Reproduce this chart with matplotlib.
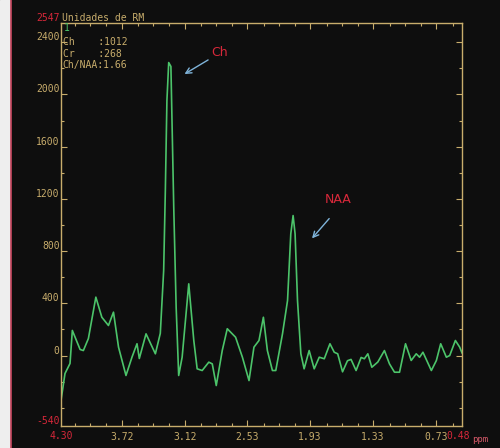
import numpy as np
import matplotlib.pyplot as plt
from matplotlib.patches import Rectangle
from matplotlib.lines import Line2D

# spectrum (ppm, signal in "Unidades de RM")
ppm = [4.300, 4.262, 4.214, 4.192, 4.118, 4.087, 4.039, 3.968, 3.911, 3.848,
       3.800, 3.752, 3.681, 3.624, 3.576, 3.554, 3.490, 3.401, 3.354, 3.322,
       3.306, 3.291, 3.274, 3.253, 3.226, 3.203, 3.179, 3.146, 3.083, 3.035,
       3.003, 2.955, 2.892, 2.859, 2.821, 2.764, 2.716, 2.637, 2.572, 2.509,
       2.462, 2.414, 2.372, 2.334, 2.286, 2.254, 2.190, 2.142, 2.111, 2.089,
       2.070, 2.047, 2.015, 1.984, 1.936, 1.888, 1.840, 1.792, 1.738, 1.697,
       1.664, 1.618, 1.571, 1.537, 1.489, 1.441, 1.410, 1.377, 1.339, 1.282,
       1.219, 1.171, 1.123, 1.075, 1.018, 0.964, 0.916, 0.884, 0.852, 0.772,
       0.724, 0.683, 0.629, 0.597, 0.543, 0.502, 0.480]
signal = [-345, -138, -61, 192, 46, 38, 130, 447, 293, 230,
          332, 64, -153, -13, 90, -23, 166, 13, 170, 651,
          1264, 1953, 2244, 2214, 1136, 370, -153, -13, 549, 115,
          -102, -115, -51, -64, -230, 38, 205, 140, -13, -192,
          64, 115, 293, 38, -115, -115, 166, 421, 932, 1072,
          932, 421, 13, -102, 38, -102, -13, -25, 90, 25,
          13, -125, -40, -30, -115, -15, -25, 13, -90, -50,
          38, -64, -128, -128, 90, -38, 13, -13, 25, -115,
          -38, 90, -13, 0, 115, 64, 20]

x_major = [3.72, 3.12, 2.53, 1.93, 1.33, 0.73]
x_labels = ['3.72', '3.12', '2.53', '1.93', '1.33', '0.73']
y_major = [0, 400, 800, 1200, 1600, 2000, 2400]
x_lim = (4.30, 0.48)
y_lim = (-540, 2547)

info_lines = ['Ch    :1012', 'Cr    :268', 'Ch/NAA:1.66']

TAN = '#c8ad6c'
RED = '#d8283a'
GREEN = '#4cc46a'
BLUE = '#7fb4da'
BG = '#0e0e0e'

fig = plt.figure(figsize=(5, 4.48), dpi=100)
fig.patch.set_facecolor(BG)
fig.patches.append(Rectangle((0, 0), 10 / 500, 1, transform=fig.transFigure,
                             color='#eeeeee', zorder=0))
fig.lines.append(Line2D([10.5 / 500, 10.5 / 500], [0, 1], transform=fig.transFigure,
                        color='#c04058', lw=1.2))

ax = fig.add_axes([61 / 500, 1 - 426 / 448, 401 / 500, 403 / 448])
ax.set_facecolor(BG)
ax.plot(ppm, signal, color=GREEN, lw=1.2)
ax.set_xlim(*x_lim)
ax.set_ylim(*y_lim)

for s in ax.spines.values():
    s.set_color(TAN)
    s.set_linewidth(1.0)

mono = 'DejaVu Sans Mono'
ax.set_xticks(x_major)
ax.set_xticklabels(x_labels)
x_minor = [3.72 - 0.15 * k for k in range(-3, 25) if k % 4 != 0]
ax.set_xticks([v for v in x_minor if x_lim[1] < v < x_lim[0]], minor=True)
ax.set_yticks(y_major)
ax.set_yticklabels([str(v) for v in y_major])
ax.set_yticks(np.arange(-400, 2547, 200), minor=True)
ax.tick_params(which='both', direction='in', top=True, right=True, color=TAN,
               labelcolor=TAN, labelsize=7, width=0.8)
ax.tick_params(which='major', length=4)
ax.tick_params(which='minor', length=2)
ax.tick_params(axis='x', pad=4)
ax.tick_params(axis='y', pad=1)
for lab in ax.get_xticklabels() + ax.get_yticklabels():
    lab.set_family(mono)
for lab in ax.get_yticklabels():
    lab.set_va('bottom')

# limit labels in red
ax.text(-0.003, y_lim[0], '-540', transform=ax.get_yaxis_transform(), ha='right',
        va='bottom', color=RED, fontsize=7, family=mono)
ax.text(-0.003, 1.0, '2547', transform=ax.transAxes, ha='right', va='bottom',
        color=RED, fontsize=7, family=mono)
ax.text(0.002, 1.0, 'Unidades de RM', transform=ax.transAxes, ha='left', va='bottom',
        color=TAN, fontsize=7, family=mono)
ax.text(x_lim[0], -0.012, '4.30', transform=ax.get_xaxis_transform(), ha='center',
        va='top', color=RED, fontsize=7, family=mono)
ax.text(0.515, -0.012, '0.48', transform=ax.get_xaxis_transform(), ha='center',
        va='top', color=RED, fontsize=7, family=mono)
ax.text(1.025, -0.022, 'ppm', transform=ax.transAxes, ha='left', va='top',
        color='#d85a6a', fontsize=6.5, family=mono)

# header block inside the frame
ax.text(0.006, 1.0, '1', transform=ax.transAxes, ha='left', va='top',
        color=GREEN, fontsize=7, family=mono)
for i, line in enumerate(info_lines):
    ax.text(0.004, 0.965 - i * 0.029, line, transform=ax.transAxes, ha='left',
            va='top', color=TAN, fontsize=7, family=mono)

# peak labels
ax.annotate('', xy=(3.146, 2145), xytext=(2.876, 2275),
            arrowprops=dict(arrowstyle='->', color=BLUE, lw=1.0))
ax.text(2.79, 2323, 'Ch', color=RED, fontsize=9, ha='center', va='center')
ax.annotate('', xy=(1.926, 881), xytext=(1.728, 1065),
            arrowprops=dict(arrowstyle='->', color=BLUE, lw=1.0))
ax.text(1.664, 1193, 'NAA', color=RED, fontsize=9, ha='center', va='center')

fig.savefig('out.png', dpi=100, facecolor=fig.get_facecolor())
